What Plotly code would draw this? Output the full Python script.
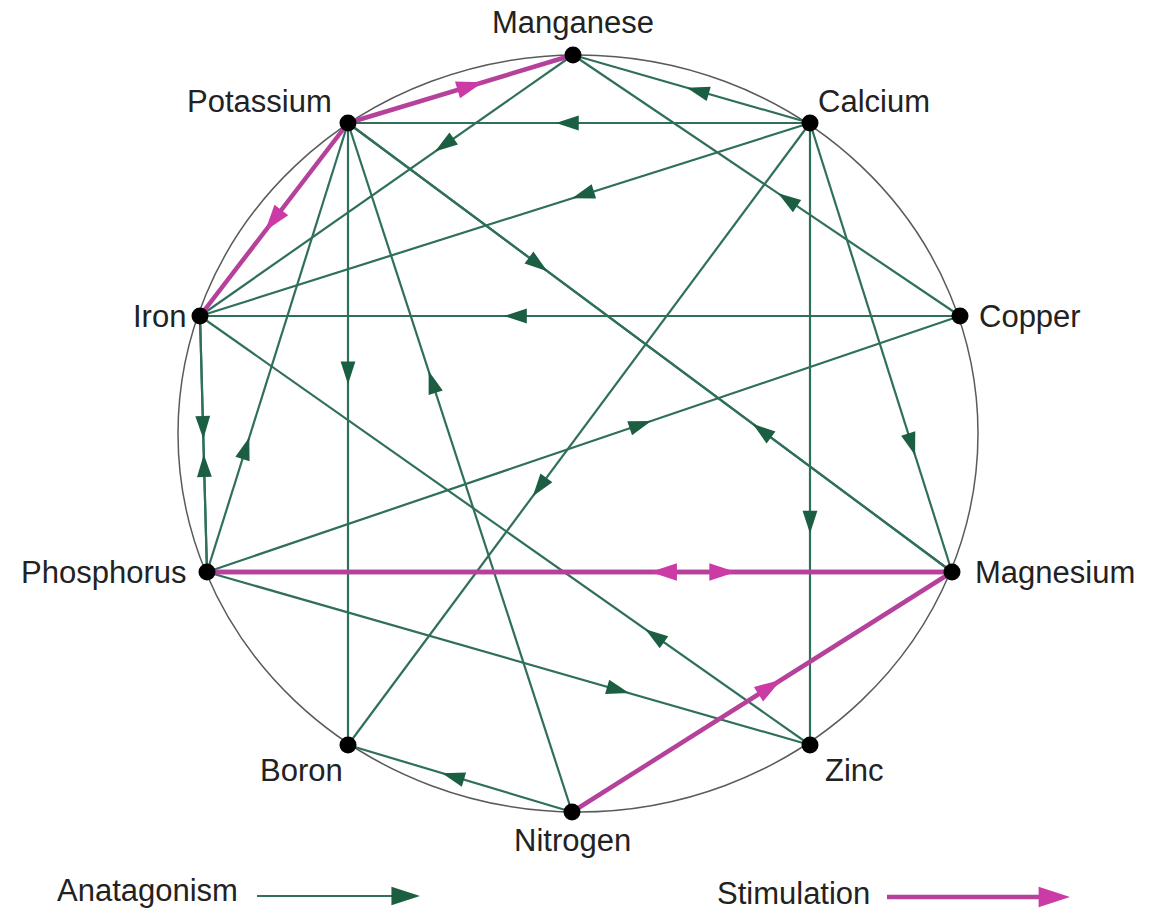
import numpy as np
import plotly.graph_objects as go

# nodes round the ring (positions in picture pixels)
names = ['Manganese', 'Calcium', 'Copper', 'Magnesium', 'Zinc',
         'Nitrogen', 'Boron', 'Phosphorus', 'Iron', 'Potassium']
node_x = [573, 810, 960, 952, 810, 572, 348, 207, 200, 348]
node_y = [55, 123, 316, 572, 745, 812, 745, 572, 316, 123]

# antagonism: source -> target
antagonism = [
    ('Calcium', 'Manganese'), ('Calcium', 'Potassium'), ('Manganese', 'Iron'),
    ('Calcium', 'Iron'), ('Copper', 'Manganese'), ('Potassium', 'Magnesium'),
    ('Magnesium', 'Potassium'), ('Potassium', 'Boron'), ('Nitrogen', 'Potassium'),
    ('Phosphorus', 'Potassium'), ('Copper', 'Iron'), ('Iron', 'Phosphorus'),
    ('Phosphorus', 'Iron'), ('Zinc', 'Iron'), ('Phosphorus', 'Copper'),
    ('Calcium', 'Boron'), ('Calcium', 'Zinc'), ('Calcium', 'Magnesium'),
    ('Phosphorus', 'Zinc'), ('Nitrogen', 'Boron'),
]
# stimulation: source -> target
stimulation = [
    ('Potassium', 'Manganese'), ('Potassium', 'Iron'), ('Phosphorus', 'Magnesium'),
    ('Magnesium', 'Phosphorus'), ('Nitrogen', 'Magnesium'),
]

# where the arrow tip sits along each line (share of the way from the source)
antagonism_tip = [0.52, 0.55, 0.37, 0.39, 0.47, 0.33, 0.33, 0.42, 0.64, 0.30,
                  0.60, 0.48, 0.46, 0.27, 0.59, 0.60, 0.66, 0.74, 0.70, 0.58]
stimulation_tip = [0.60, 0.56, 0.71, 0.405, 0.55]

# label placement: offset from the node and anchor
label_off = {
    'Manganese': (0, -33, 'center'), 'Calcium': (6, -22, 'left'),
    'Copper': (17, 0, 'left'), 'Magnesium': (21, 0, 'left'),
    'Zinc': (13, 25, 'left'), 'Nitrogen': (0, 28, 'center'),
    'Boron': (-3, 25, 'right'), 'Phosphorus': (-19, 0, 'right'),
    'Iron': (-12, 0, 'right'), 'Potassium': (-14, -22, 'right'),
}

GREEN = '#2f6f5b'
GREEN_HEAD = '#1b5e42'
PINK = '#b5419a'
PINK_HEAD = '#cc3aa6'
FONT = 'Liberation Sans, Arial, sans-serif'

idx = {n: i for i, n in enumerate(names)}


def segments(pairs):
    xs, ys = [], []
    for a, b in pairs:
        xs += [node_x[idx[a]], node_x[idx[b]], None]
        ys += [node_y[idx[a]], node_y[idx[b]], None]
    return xs, ys


def heads(pairs, tips):
    xs, ys, ang = [], [], []
    for (a, b), t in zip(pairs, tips):
        x1, y1 = node_x[idx[a]], node_y[idx[a]]
        x2, y2 = node_x[idx[b]], node_y[idx[b]]
        xs.append(x1 + t * (x2 - x1))
        ys.append(y1 + t * (y2 - y1))
        ang.append(float(np.degrees(np.arctan2(x2 - x1, y1 - y2))))
    return xs, ys, ang


fig = go.Figure()

# the ring
fig.add_shape(type='circle', xref='x', yref='y', x0=178, x1=978, y0=55, y1=812,
              line=dict(color='#5a5a5a', width=1.5), layer='below')

gx, gy = segments(antagonism)
fig.add_trace(go.Scatter(x=gx, y=gy, mode='lines', line=dict(color=GREEN, width=2.2),
                         hoverinfo='skip'))
px_, py_ = segments(stimulation)
fig.add_trace(go.Scatter(x=px_, y=py_, mode='lines', line=dict(color=PINK, width=4.5),
                         hoverinfo='skip'))

hx, hy, ha = heads(antagonism, antagonism_tip)
fig.add_trace(go.Scatter(x=hx, y=hy, mode='markers', hoverinfo='skip',
                         marker=dict(symbol='arrow', size=24, angle=ha, color=GREEN_HEAD,
                                     line=dict(width=0))))
hx, hy, ha = heads(stimulation, stimulation_tip)
fig.add_trace(go.Scatter(x=hx, y=hy, mode='markers', hoverinfo='skip',
                         marker=dict(symbol='arrow', size=28, angle=ha, color=PINK_HEAD,
                                     line=dict(width=0))))

# nodes
fig.add_trace(go.Scatter(x=node_x, y=node_y, mode='markers', hoverinfo='text', text=names,
                         marker=dict(size=17, color='black')))

for n in names:
    dx, dy, anchor = label_off[n]
    fig.add_annotation(x=node_x[idx[n]] + dx, y=node_y[idx[n]] + dy, text=n,
                       showarrow=False, xanchor=anchor, yanchor='middle',
                       font=dict(family=FONT, size=31, color='#222222'))

# key at the bottom
fig.add_trace(go.Scatter(x=[257, 405], y=[896, 896], mode='lines',
                         line=dict(color=GREEN, width=2), hoverinfo='skip'))
fig.add_trace(go.Scatter(x=[420], y=[896], mode='markers', hoverinfo='skip',
                         marker=dict(symbol='arrow', size=30, angle=90, color=GREEN_HEAD,
                                     line=dict(width=0))))
fig.add_trace(go.Scatter(x=[887, 1045], y=[897, 897], mode='lines',
                         line=dict(color=PINK, width=4.5), hoverinfo='skip'))
fig.add_trace(go.Scatter(x=[1070], y=[897], mode='markers', hoverinfo='skip',
                         marker=dict(symbol='arrow', size=33, angle=90, color=PINK_HEAD,
                                     line=dict(width=0))))
fig.add_annotation(x=55, y=890, text='Anatagonism', showarrow=False, xanchor='left',
                   yanchor='middle', font=dict(family=FONT, size=31, color='#222222'))
fig.add_annotation(x=715, y=893, text='Stimulation', showarrow=False, xanchor='left',
                   yanchor='middle', font=dict(family=FONT, size=31, color='#222222'))

fig.update_layout(
    width=1153, height=913,
    margin=dict(l=0, r=0, t=0, b=0),
    paper_bgcolor='white', plot_bgcolor='white',
    showlegend=False,
    xaxis=dict(range=[0, 1153], visible=False, fixedrange=True),
    yaxis=dict(range=[913, 0], visible=False, fixedrange=True),
)

fig.write_html("out.html", config={'displayModeBar': False},
               post_script="document.body.style.margin='0';")
